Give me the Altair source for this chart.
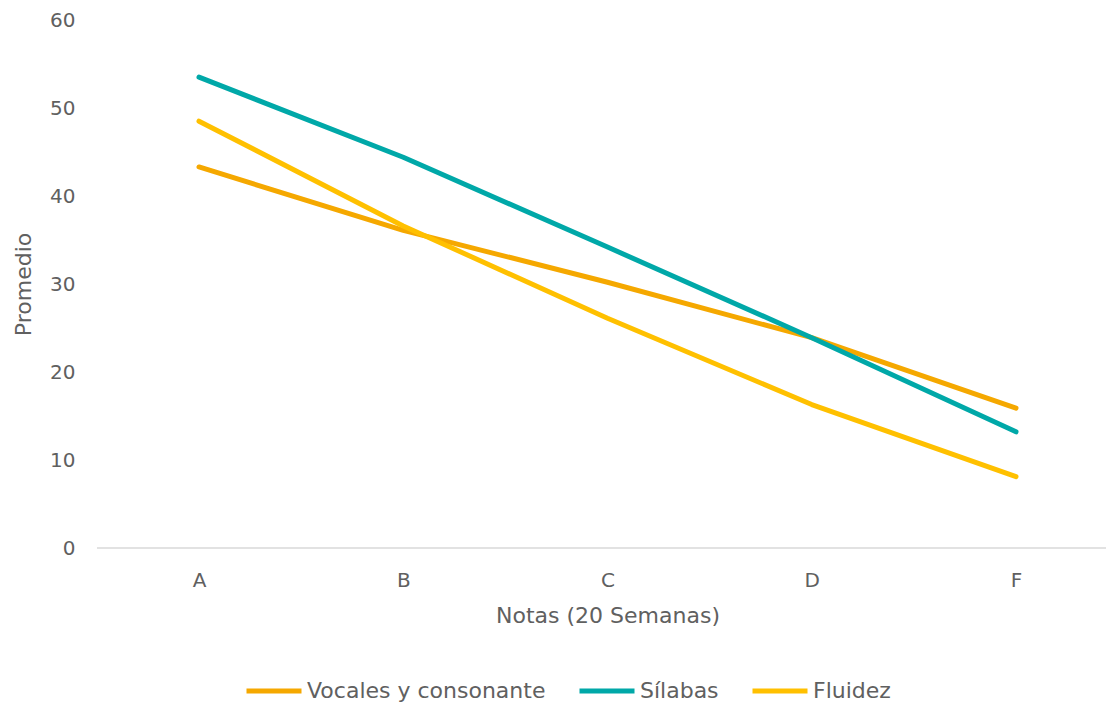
import altair as alt
import pandas as pd

categories = ["A", "B", "C", "D", "F"]
vocales = [43.3, 36.1, 30.2, 23.9, 15.9]
silabas = [53.5, 44.4, 34.2, 23.9, 13.2]
fluidez = [48.5, 36.6, 26.1, 16.3, 8.1]
series_names = ["Vocales y consonante", "Sílabas", "Fluidez"]
colors = ["#F5A800", "#00A8A8", "#FFC000"]

rows = []
for name, vals in zip(series_names, [vocales, silabas, fluidez]):
    for c, v in zip(categories, vals):
        rows.append({"Nota": c, "Promedio": v, "Serie": name})
df = pd.DataFrame(rows)

FONT = "DejaVu Sans"
GRAY = "#606060"
W, H = 1009, 528

lines = alt.Chart(df).mark_line(strokeWidth=5, strokeCap="round", strokeJoin="round").encode(
    x=alt.X("Nota:N", sort=categories,
            scale=alt.Scale(type="point", range=[102, 919], padding=0),
            axis=alt.Axis(title="Notas (20 Semanas)", labelAngle=0, ticks=False,
                          domain=False, labelPadding=22,
                          labelFontSize=20, labelColor=GRAY, labelFont=FONT,
                          titleFontSize=22, titleColor=GRAY, titleFont=FONT,
                          titleFontWeight="normal", titlePadding=15, grid=False)),
    y=alt.Y("Promedio:Q", scale=alt.Scale(domain=[0, 60], nice=False),
            axis=alt.Axis(title="Promedio", values=[0, 10, 20, 30, 40, 50, 60],
                          ticks=False, domain=False, grid=False, labelPadding=22,
                          labelFontSize=20, labelColor=GRAY, labelFont=FONT,
                          titleFontSize=22, titleColor=GRAY, titleFont=FONT,
                          titleFontWeight="normal", titlePadding=14)),
    color=alt.Color("Serie:N", sort=series_names,
                    scale=alt.Scale(domain=series_names, range=colors),
                    legend=alt.Legend(title=None, orient="none", direction="horizontal",
                                      legendX=147, legendY=641,
                                      symbolType="stroke", symbolSize=3025,
                                      symbolStrokeWidth=5, labelOffset=3,
                                      columnPadding=23, labelLimit=0,
                                      labelFontSize=22, labelColor=GRAY, labelFont=FONT)),
)

baseline = alt.Chart(pd.DataFrame({"y": [0]})).mark_rule(color="#D9D9D9", strokeWidth=1.3).encode(
    y=alt.Y("y:Q", scale=alt.Scale(domain=[0, 60], nice=False), axis=None)
)

chart = alt.layer(lines, baseline).resolve_scale(y="independent").properties(
    width=W, height=H,
    autosize=alt.AutoSizeParams(type="none"),
    padding={"left": 89, "top": 12, "right": 0, "bottom": 156},
).configure_view(stroke=None)

chart.save("out.html", embed_options={"renderer": "svg", "actions": False})
